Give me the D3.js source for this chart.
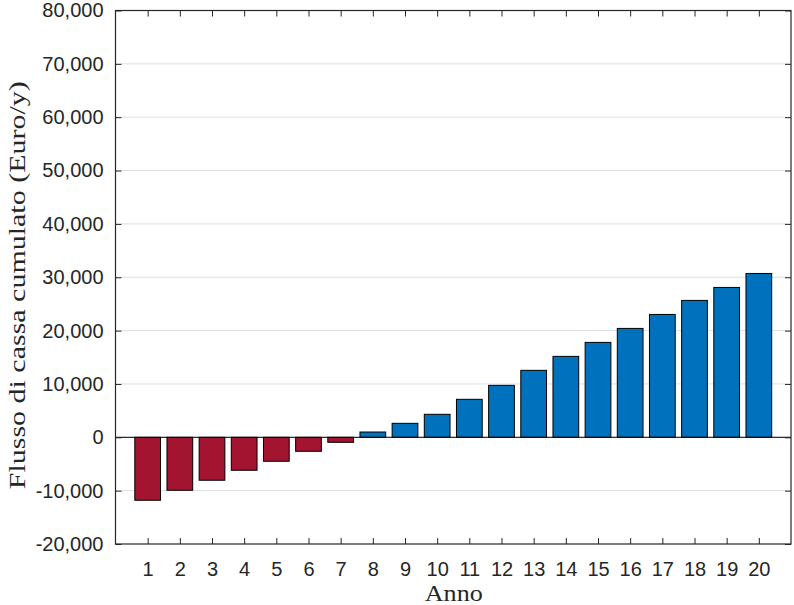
<!DOCTYPE html>
<html>
<head>
<meta charset="utf-8">
<script src="https://cdn.jsdelivr.net/npm/d3@7"></script>
<style>
  html, body { margin: 0; padding: 0; background: #fff; }
  svg { display: block; }
</style>
</head>
<body>
<svg id="chart" width="794" height="605"></svg>
<script>
// ---- data ----
const years = [1,2,3,4,5,6,7,8,9,10,11,12,13,14,15,16,17,18,19,20];
const cashflow = [-11800,-9930,-8050,-6180,-4490,-2620,-940,990,2620,4310,7120,9740,12550,15170,17790,20410,23030,25660,28090,30710];
const yTicks = [-20000,-10000,0,10000,20000,30000,40000,50000,60000,70000,80000];
const xLabel = "Anno";
const yLabel = "Flusso di cassa cumulato (Euro/y)";

// ---- layout ----
const L = 115.5, R = 791, T = 10.5, B = 544;
const svg = d3.select("#chart");
const x = d3.scaleLinear().domain([0, 21]).range([L, R]);
const y = d3.scaleLinear().domain([-20000, 80000]).range([B, T]);
const fmt = d => d3.format(",")(d).replace("\u2212", "-");
const axisCol = "#262626";
const tickFont = "'Liberation Sans', Arial, Helvetica, sans-serif";

// gridlines
svg.append("g").selectAll("line").data(yTicks.filter(d => d > -20000 && d < 80000)).join("line")
  .attr("x1", L).attr("x2", R)
  .attr("y1", d => y(d)).attr("y2", d => y(d))
  .attr("stroke", "#dfdfdf").attr("stroke-width", 1);

// bars
const bw = x(0.8) - x(0);
svg.append("g").selectAll("rect").data(years).join("rect")
  .attr("x", (d) => x(d) - bw / 2)
  .attr("width", bw)
  .attr("y", (d, i) => y(Math.max(0, cashflow[i])))
  .attr("height", (d, i) => Math.abs(y(cashflow[i]) - y(0)))
  .attr("fill", (d, i) => cashflow[i] < 0 ? "#A2142F" : "#0072BD")
  .attr("stroke", "#000").attr("stroke-width", 1);

// baseline
svg.append("line").attr("x1", L).attr("x2", R).attr("y1", y(0)).attr("y2", y(0))
  .attr("stroke", "#000").attr("stroke-width", 1);

// axes
const tl = 6;
const gx = svg.append("g").attr("transform", `translate(0,${B})`)
  .call(d3.axisBottom(x).tickValues(years).tickSize(-tl).tickPadding(18).tickFormat(d3.format("d")));
const gxTop = svg.append("g").attr("transform", `translate(0,${T})`)
  .call(d3.axisTop(x).tickValues(years).tickSize(-tl).tickFormat(""));
const gy = svg.append("g").attr("transform", `translate(${L},0)`)
  .call(d3.axisLeft(y).tickValues(yTicks).tickSize(-tl).tickPadding(12).tickFormat(fmt));
const gyR = svg.append("g").attr("transform", `translate(${R},0)`)
  .call(d3.axisRight(y).tickValues(yTicks).tickSize(-tl).tickFormat(""));

[gx, gxTop, gy, gyR].forEach(g => {
  g.select(".domain").remove();
  g.selectAll(".tick line").attr("stroke", axisCol);
  g.selectAll("text").attr("fill", axisCol).style("font-family", tickFont).style("font-size", "20px");
});

// box
svg.append("rect").attr("x", L).attr("y", T).attr("width", R - L).attr("height", B - T)
  .attr("fill", "none").attr("stroke", axisCol).attr("stroke-width", 1.2);

// axis labels
svg.append("text").attr("x", (L + R) / 2 + 0.5).attr("y", 601)
  .attr("text-anchor", "middle")
  .attr("textLength", 58).attr("lengthAdjust", "spacingAndGlyphs")
  .style("font-family", "'Liberation Serif', 'Times New Roman', serif")
  .style("font-size", "23px").attr("fill", axisCol)
  .text(xLabel);

svg.append("text")
  .attr("transform", `translate(25,${(T + B) / 2 + 8}) rotate(-90)`)
  .attr("text-anchor", "middle")
  .attr("textLength", 408).attr("lengthAdjust", "spacingAndGlyphs")
  .style("font-family", "'Liberation Serif', 'Times New Roman', serif")
  .style("font-size", "24px").attr("fill", axisCol)
  .text(yLabel);
</script>
</body>
</html>
